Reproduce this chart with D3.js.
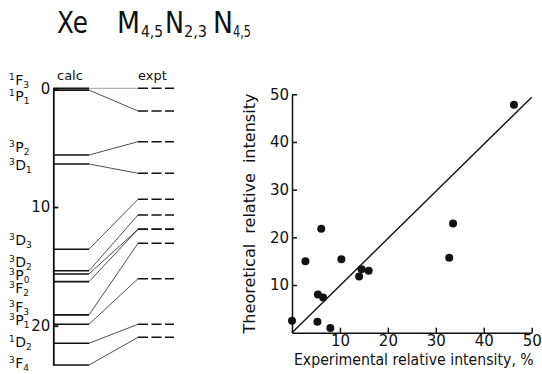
<!DOCTYPE html>
<html>
<head>
<meta charset="utf-8">
<script src="https://cdn.jsdelivr.net/npm/d3@7"></script>
<style>
  body { margin: 0; background: #fff; }
  svg { display: block; }
  text { font-family: "DejaVu Sans", sans-serif; fill: #111; }
</style>
</head>
<body>
<div id="chart"></div>
<script>
// Level diagram: term, calculated energy, experimental energy, label position (all in the diagram's energy units)
const terms  = ['1F3', '1P1', '3P2', '3D1', '3D3', '3D2', '3P0', '3F2', '3F3', '3P1', '1D2', '3F4'];
const calcE  = [0, 0.15, 5.62, 6.38, 13.56, 15.37, 15.64, 16.29, 19.09, 19.88, 21.48, 23.31];
const exptE  = [0, 1.91, 4.50, 7.16, 9.35, 10.67, 11.88, 11.88, 13.06, 16.04, 19.88, 20.98];
const labelE = [-0.28, 1.07, 5.37, 6.89, 13.2, 15.05, 16.15, 17.24, 18.84, 19.94, 21.79, 23.56];
const energyTicks = [0, 10, 20];

// Scatter: experimental vs theoretical relative intensity
const exptInt = [0, 2.8, 6.1, 5.4, 6.5, 5.3, 8.0, 10.3, 14.0, 14.5, 16.0, 32.8, 33.6, 46.3];
const theoInt = [2.5, 15.0, 21.8, 8.0, 7.4, 2.3, 1.0, 15.4, 11.8, 13.3, 13.0, 15.7, 22.9, 47.8];
const fitLine = [[0, 0], [50, 49.4]];
const intTicks = [10, 20, 30, 40, 50];

const W = 542, H = 374;
const ink = '#111';

const svg = d3.select('#chart').append('svg')
  .attr('width', W).attr('height', H);
svg.append('rect').attr('width', W).attr('height', H).attr('fill', '#fff');

// Title
function txt(x, y, s, size, len) {
  const t = svg.append('text').attr('x', x).attr('y', y).attr('font-size', size).text(s);
  if (len) t.attr('textLength', len).attr('lengthAdjust', 'spacingAndGlyphs');
  return t;
}
txt(57, 33, 'Xe', 30, 31);
txt(117, 33, 'M', 30, 23);
txt(141, 37, '4,5', 16, 22);
txt(165, 33, 'N', 30, 19);
txt(184, 37, '2,3', 16, 23);
txt(213, 33, 'N', 30, 20);
txt(233, 37, '4,5', 16, 18);

// ---- Left: level diagram ----
const eY = d3.scaleLinear().domain([0, 20]).range([88.3, 325.7]);
const calcX0 = 53.3, calcX1 = 89, exptX0 = 138, exptX1 = 174;

const left = svg.append('g');

left.append('g')
  .attr('transform', `translate(${calcX0},0)`)
  .call(d3.axisLeft(eY.copy().domain([0, d3.max(calcE)]).range([eY(0), eY(d3.max(calcE))]))
    .tickValues(energyTicks).tickSize(-5).tickSizeOuter(0).tickPadding(3))
  .call(g => g.attr('font-size', 15).attr('font-family', '"DejaVu Sans", sans-serif'))
  .call(g => g.select('.domain').attr('stroke', ink).attr('stroke-width', 1.8))
  .call(g => g.selectAll('.tick line').attr('stroke', ink).attr('stroke-width', 1.8))
  .call(g => g.selectAll('.tick text').attr('fill', ink));

left.append('text').attr('x', 57).attr('y', 80).attr('font-size', 13).text('calc');
left.append('text').attr('x', 138).attr('y', 80).attr('font-size', 13).text('expt');

// connectors
left.selectAll('.conn').data(terms).join('line')
  .attr('x1', calcX1).attr('x2', exptX0)
  .attr('y1', (d, i) => eY(calcE[i])).attr('y2', (d, i) => eY(exptE[i]))
  .attr('stroke', (d, i) => i === 0 ? '#888' : '#222')
  .attr('stroke-width', 0.8);

// calc levels
left.selectAll('.calc').data(terms).join('line')
  .attr('x1', calcX0).attr('x2', calcX1)
  .attr('y1', (d, i) => eY(calcE[i])).attr('y2', (d, i) => eY(calcE[i]))
  .attr('stroke', ink).attr('stroke-width', 1.6);

// expt levels (dashed)
left.selectAll('.expt').data(terms).join('line')
  .attr('x1', exptX0).attr('x2', exptX1)
  .attr('y1', (d, i) => eY(exptE[i])).attr('y2', (d, i) => eY(exptE[i]))
  .attr('stroke', ink).attr('stroke-width', 1.5)
  .attr('stroke-dasharray', '10,3.5');

// term labels
const lab = left.selectAll('.term').data(terms).join('text')
  .attr('x', 9).attr('y', (d, i) => eY(labelE[i]));
lab.append('tspan').attr('font-size', 9).attr('dy', -5).text(d => d[0]);
lab.append('tspan').attr('font-size', 14).attr('dx', 0.5).attr('dy', 5).text(d => d[1]);
lab.append('tspan').attr('font-size', 9).attr('dy', 3).text(d => d.slice(2));

// ---- Right: scatter ----
const ix = d3.scaleLinear().domain([0, 50]).range([292, 531.7]);
const iy = d3.scaleLinear().domain([0, 50]).range([332.7, 94.3]);

const right = svg.append('g');

right.append('g')
  .attr('transform', `translate(${ix(0)},0)`)
  .call(d3.axisLeft(iy).tickValues(intTicks).tickSize(-5).tickSizeOuter(0).tickPadding(3))
  .call(g => g.attr('font-size', 15).attr('font-family', '"DejaVu Sans", sans-serif'))
  .call(g => g.select('.domain').attr('stroke', ink).attr('stroke-width', 1.5))
  .call(g => g.selectAll('.tick line').attr('stroke', ink).attr('stroke-width', 1.5))
  .call(g => g.selectAll('.tick text').attr('fill', ink));

right.append('g')
  .attr('transform', `translate(0,${iy(0)})`)
  .call(d3.axisBottom(ix).tickValues(intTicks).tickSize(-5).tickSizeOuter(0).tickPadding(3))
  .call(g => g.attr('font-size', 15).attr('font-family', '"DejaVu Sans", sans-serif'))
  .call(g => g.select('.domain').attr('stroke', ink).attr('stroke-width', 1.5))
  .call(g => g.selectAll('.tick line').attr('stroke', ink).attr('stroke-width', 1.5))
  .call(g => g.selectAll('.tick text').attr('fill', ink));

right.append('path')
  .datum(fitLine)
  .attr('fill', 'none').attr('stroke', ink).attr('stroke-width', 1.4)
  .attr('d', d3.line().x(d => ix(d[0])).y(d => iy(d[1])));

right.selectAll('circle').data(exptInt).join('circle')
  .attr('cx', d => ix(d)).attr('cy', (d, i) => iy(theoInt[i]))
  .attr('r', 4).attr('fill', ink);

// axis titles, squeezed horizontally to the reference widths
function squeezed(cx, cy, rot, s, target) {
  const t = right.append('text').attr('text-anchor', 'middle').attr('font-size', 16)
    .attr('word-spacing', rot ? 5 : 0).text(s);
  const k = target / t.node().getComputedTextLength();
  t.attr('transform', `translate(${cx},${cy}) rotate(${rot}) scale(${k},1)`);
  return t;
}
squeezed(255, (iy(0) + iy(50)) / 2, -90, 'Theoretical relative intensity', 240);
squeezed((ix(0) + ix(50)) / 2 + 2, 365, 0, 'Experimental relative intensity, %', 240);
</script>
</body>
</html>
